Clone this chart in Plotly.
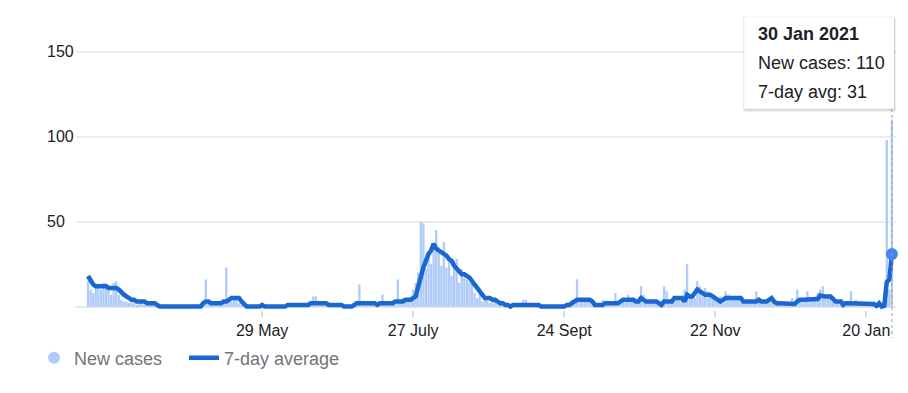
import plotly.graph_objects as go
import pandas as pd

# ---------------- data ----------------
start_date = "2020-03-22"

new_cases = (
    [15, 10, 8, 12, 12, 10, 14, 14, 10, 7, 14, 15, 7, 4, 3]
    + [3, 2, 3, 2, 1, 3, 2, 1, 2, 1, 1, 2, 0]
    + [0, 0, 1, 0, 0, 0, 0, 1, 0, 0, 0, 0, 0, 0, 0, 0, 0]
    + [2, 16, 3, 1, 2, 3, 2, 1, 4, 23, 4, 3, 5, 4, 2]
    + [1, 0, 0, 0, 0, 0, 0, 0, 1, 0, 0, 0, 0, 0, 0, 0, 0, 0, 1, 0, 1, 2, 0, 1, 1, 0, 2]
    + [2, 6, 6, 3, 2, 1, 2, 1]
    + [1, 0, 1, 0, 0, 0, 0, 0, 1, 2]
    + [2, 13, 1, 2, 3, 2, 1, 2, 1, 2, 7, 2, 3, 1, 2, 3, 16, 4, 5, 3, 5, 6, 10, 14]
    + [20, 50, 49, 22, 30, 25, 33, 45, 35, 24, 38, 23, 30, 18, 27, 28, 14, 22, 17, 16,
       14, 14, 8, 5, 9, 3, 4, 6, 2, 3, 4, 2]
    + [1, 2, 1, 0, 1, 0, 1, 2, 1, 4, 4, 1, 0, 1, 1, 0, 0, 1, 0, 0, 0, 1, 0, 0, 0, 1, 0, 0, 4, 2]
    + [16, 3, 5, 4, 3, 4, 2, 1, 0, 1, 4, 2, 3, 2, 3, 8, 2, 3, 4, 3, 7, 5]
    + [4, 3, 5, 12, 7, 3, 4, 3, 2, 4, 1, 2, 12, 9, 3, 4, 6, 5, 4, 5, 10]
    + [25, 5, 7, 5, 15, 12, 6, 11, 9, 6, 5, 4, 3, 6, 2, 9, 7]
    + [5, 6, 4, 5, 6, 3, 3, 2, 4, 3, 9, 3, 4, 2, 3]
    + [5, 4, 3, 2, 1, 2, 2, 1, 2, 5, 1, 10, 4, 3, 5, 9, 4, 5, 6, 8, 10, 12, 6, 5, 5]
    + [3, 2, 2, 1, 4, 2, 1, 9, 2, 4, 2, 3, 1, 2, 2, 1, 2, 0, 3, 0, 1]
    + [98, 10, 110]
)

avg_7day = (
    [18, 15, 13, 12, 12, 12, 12, 12, 11, 11]
    + [11, 11, 10, 8, 7, 6, 5, 4, 4, 3]
    + [3, 3, 3, 2, 2, 2, 2, 1, 0, 0]
    + [0, 0, 0, 0, 0, 0, 0, 0, 0, 0]
    + [0, 0, 0, 0, 0, 2, 3, 3, 2, 2]
    + [2, 2, 2, 3, 3, 4, 5, 5, 5, 5]
    + [3, 1, 0, 0, 0, 0, 0, 0, 1, 0]
    + [0, 0, 0, 0, 0, 0, 0, 0, 1, 1]
    + [1, 1, 1, 1, 1, 1, 1, 2, 2, 2]
    + [2, 2, 2, 2, 1, 1, 1, 1, 1, 1]
    + [0, 0, 0, 0, 1, 2, 2, 2, 2, 2]
    + [2, 2, 2, 1, 2, 2, 2, 2, 2, 2]
    + [3, 3, 3, 3, 4, 4, 4, 5, 6, 12]
    + [19, 23, 27, 31, 33, 37, 34, 33, 32, 31]
    + [30, 28, 27, 24, 22, 20, 19, 19, 18, 17]
    + [15, 13, 10, 8, 6, 5, 5, 5, 4, 4]
    + [3, 2, 2, 1, 1, 0, 1, 1, 1, 1]
    + [1, 1, 1, 1, 1, 1, 1, 0, 0, 0]
    + [0, 0, 0, 0, 0, 0, 0, 1, 1, 2]
    + [3, 4, 4, 4, 4, 4, 4, 3, 1, 1]
    + [1, 1, 2, 2, 2, 2, 2, 2, 3, 4]
    + [4, 4, 4, 4, 3, 3, 5, 4, 3, 3]
    + [3, 3, 3, 2, 1, 3, 3, 3, 3, 5]
    + [5, 5, 5, 3, 7, 6, 6, 8, 10, 9]
    + [8, 7, 7, 7, 6, 5, 4, 3, 4, 5]
    + [5, 5, 5, 5, 5, 5, 3, 3, 3, 3]
    + [3, 3, 4, 3, 3, 3, 4, 5, 3, 2]
    + [2, 2, 2, 1.5, 1.5, 1.5, 1.5, 3, 4, 4]
    + [4, 4, 4.5, 4.5, 4.5, 4.5, 6.5, 6, 6, 6]
    + [6, 4.5, 3, 3, 3, 1, 2, 2, 2, 2]
    + [2, 2, 2, 2, 1.5, 1.5, 1.5, 1.5, 0.5, 2]
    + [0, 0.5, 14.5, 16, 31]
)

tick_dates = ["2020-05-29", "2020-07-27", "2020-09-24", "2020-11-22", "2021-01-20"]
tick_labels = ["29 May", "27 July", "24 Sept", "22 Nov", "20 Jan"]
y_ticks = [0, 50, 100, 150]

assert len(new_cases) == len(avg_7day), (len(new_cases), len(avg_7day))

dates = pd.date_range(start_date, periods=len(new_cases), freq="D")

# ---------------- geometry helpers (screen px -> paper) ----------------
OFF = 8                      # default page body margin
W, H = 892, 377              # figure size so that it fits the 908x393 window
ML, MR, MT, MB = 35, 4, 13, 75
PW = W - ML - MR
PH = H - MT - MB


def px2x(px):
    return (px - OFF - ML) / PW


def py2y(py):
    return (H - MB - (py - OFF)) / PH


BAR_C = "#aecbfa"
LINE_C = "#1a67d2"
DOT_C = "#4285f4"

fig = go.Figure()
fig.add_trace(go.Bar(x=dates, y=new_cases, marker_color=BAR_C, marker_line_width=0,
                     showlegend=False, name="New cases", hoverinfo="skip"))
fig.add_trace(go.Scatter(x=dates, y=avg_7day, mode="lines", name="7-day average",
                         line=dict(color=LINE_C, width=4.5), legend="legend2"))
fig.add_trace(go.Scatter(x=[dates[-1]], y=[avg_7day[-1]], mode="markers",
                         marker=dict(color=DOT_C, size=12), showlegend=False,
                         cliponaxis=False))
fig.add_trace(go.Scatter(x=[None], y=[None], mode="markers", name="New cases",
                         marker=dict(color=BAR_C, size=12, symbol="circle"),
                         legend="legend"))

x_start = dates[0] - pd.Timedelta(days=4.7)
x_end = dates[0] + pd.Timedelta(days=315.6)

legend_style = dict(orientation="h", y=py2y(358), xanchor="left", yanchor="middle",
                    font=dict(size=18, color="#70757a"), bgcolor="rgba(0,0,0,0)")

fig.update_layout(
    width=W, height=H,
    margin=dict(l=ML, r=MR, t=MT, b=MB),
    plot_bgcolor="white", paper_bgcolor="white",
    font=dict(family="Arial, Liberation Sans, sans-serif", size=16, color="#202124"),
    bargap=0.1,
    xaxis=dict(
        domain=[px2x(76), 1], range=[x_start, x_end], type="date",
        tickvals=tick_dates, ticktext=tick_labels,
        showgrid=False, zeroline=False, showline=False,
        ticks="outside", ticklen=6, tickwidth=2, tickcolor="#dadce0",
        tickfont=dict(size=16, color="#202124"),
    ),
    yaxis=dict(
        anchor="free", position=0, side="left",
        range=[-2, 168], tickvals=y_ticks, ticktext=[str(v) for v in y_ticks],
        ticklabelposition="inside", ticks="",
        showgrid=True, gridcolor="#ececec", gridwidth=2,
        zeroline=True, zerolinecolor="#e4e4e4", zerolinewidth=2,
        showline=False, tickfont=dict(size=16, color="#202124"),
    ),
    legend=dict(x=px2x(34), **legend_style),
    legend2=dict(x=px2x(184), **legend_style),
)

# tooltip box with soft shadow
for dx, dy, a in [(1.5, 3, 0.06), (0.5, 1.5, 0.10)]:
    fig.add_shape(type="rect", xref="paper", yref="paper",
                  x0=px2x(744 + dx - 1), x1=px2x(894 + dx + 0.5),
                  y0=py2y(109 + dy), y1=py2y(17 + dy - 1),
                  fillcolor=f"rgba(0,0,0,{a})", line_width=0)
fig.add_shape(type="rect", xref="paper", yref="paper",
              x0=px2x(744), x1=px2x(894), y0=py2y(109), y1=py2y(17),
              fillcolor="white", line=dict(color="rgba(0,0,0,0.06)", width=1))

# dotted hover line
fig.add_shape(type="line", xref="x", yref="paper", x0=dates[-1], x1=dates[-1],
              y0=py2y(109), y1=py2y(338), line=dict(color="#9aa0a6", width=1, dash="dot"))

last = dates[-1]
tip_lines = [
    (f"<b>{last.day} {last.strftime('%b %Y')}</b>", 34),
    (f"New cases: {new_cases[-1]}", 63),
    (f"7-day avg: {round(avg_7day[-1])}", 92),
]
for txt, py in tip_lines:
    fig.add_annotation(text=txt, xref="paper", yref="paper", x=px2x(756), y=py2y(py),
                       xanchor="left", yanchor="middle", showarrow=False,
                       font=dict(size=18, color="#202124"))

fig.write_html("out.html")
